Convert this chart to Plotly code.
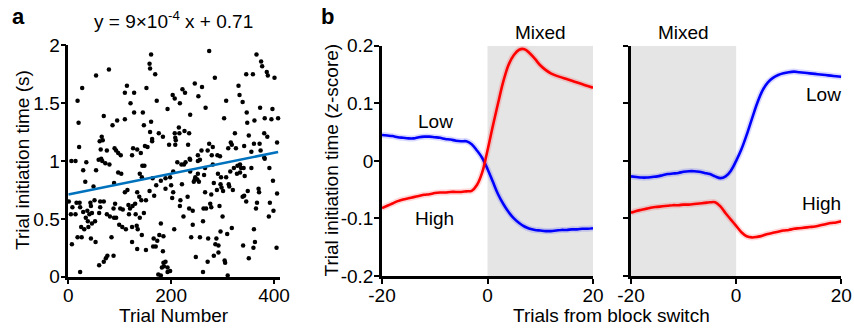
import plotly.graph_objects as go

# ---------------- Panel a data ----------------
trial_number = [
    161, 158, 159, 169, 54, 79, 27, 114, 110, 128, 152, 18, 121, 172, 203, 207, 193, 128, 145, 69,
    20, 95, 110, 86, 161, 147, 159, 176, 184, 163, 163, 65, 67, 61, 21, 196, 207, 208, 208, 63,
    75, 90, 93, 97, 102, 126, 134, 141, 149, 154, 124, 64,
    274, 366, 375, 377, 285, 346, 359, 386, 388, 401, 246, 260, 222, 227, 217, 253, 331, 333, 339, 307,
    267, 237, 347, 373, 397, 303, 348, 362, 382, 395, 408, 215, 226, 235, 216, 209, 233, 324, 351, 381,
    387, 274, 281, 316, 318, 311, 326, 342, 361, 372, 406, 259, 271, 356, 374, 252, 236, 279, 290, 295, 381,
    14, 6, 35, 59, 66, 72, 80, 29, 54, 97, 103, 144, 148, 139, 143, 33, 89, 49, 164, 171,
    180, 189, 198, 200, 110, 115, 134, 138, 142, 151, 158, 167, 189, 204, 202, 1, 16, 22, 43, 51,
    62, 69, 91, 117, 130, 8, 23, 44, 62, 88, 101, 106, 120, 125, 5, 14, 29, 37, 41, 46,
    60, 75, 81, 89, 93, 118, 131, 147, 139, 34, 38, 52, 46, 25, 31, 39, 99, 105, 112, 124,
    133, 135, 143, 180, 206, 18, 26, 44, 53, 84, 124, 166, 177, 185, 173, 170, 165, 7, 134, 151,
    184, 76, 88, 73, 69, 60, 189, 182, 186, 193, 198, 23, 175, 185, 193, 180,
    212, 220, 225, 228, 237, 252, 256, 281, 266, 204, 237, 252, 264, 247, 246, 251, 244, 254, 291, 297,
    307, 315, 322, 329, 334, 336, 341, 328, 334, 343, 356, 382, 391, 398, 221, 283, 296, 298, 312, 313,
    320, 301, 289, 266, 278, 232, 218, 339, 342, 349, 346, 370, 371, 406, 367, 392, 217, 276, 278, 294,
    235, 242, 263, 268, 365, 399, 224, 300, 262, 390, 242, 318, 296, 309, 361, 239, 256, 272, 288, 286,
    292, 340, 363, 360, 405, 292, 283, 248, 351, 304, 305, 271, 262, 310,
]
initiation_time = [
    1.92, 1.84, 1.80, 1.75, 1.74, 1.79, 1.63, 1.65, 1.59, 1.59, 1.63, 1.52, 1.50, 1.52, 1.57, 1.54, 1.45, 1.42, 1.42, 1.39,
    1.33, 1.35, 1.36, 1.31, 1.34, 1.31, 1.25, 1.24, 1.21, 1.19, 1.17, 1.21, 1.18, 1.17, 1.12, 1.14, 1.24, 1.20, 1.14, 1.10,
    1.09, 1.11, 1.09, 1.07, 1.05, 1.11, 1.10, 1.07, 1.13, 1.12, 1.05, 1.02,
    1.95, 1.92, 1.86, 1.82, 1.72, 1.75, 1.75, 1.77, 1.74, 1.72, 1.67, 1.64, 1.62, 1.59, 1.50, 1.56, 1.65, 1.57, 1.51, 1.52,
    1.46, 1.40, 1.42, 1.46, 1.45, 1.37, 1.33, 1.35, 1.37, 1.36, 1.37, 1.29, 1.26, 1.24, 1.24, 1.18, 1.14, 1.24, 1.22, 1.24,
    1.21, 1.15, 1.12, 1.16, 1.14, 1.11, 1.11, 1.13, 1.15, 1.15, 1.16, 1.09, 1.09, 1.08, 1.09, 1.05, 1.02, 1.05, 1.05, 1.04, 1.03,
    1.00, 1.00, 0.99, 1.01, 1.00, 0.98, 0.97, 0.92, 0.92, 0.90, 0.89, 0.96, 0.96, 0.89, 0.86, 0.82, 0.81, 0.78, 0.85, 0.79,
    0.83, 0.85, 0.86, 0.79, 0.73, 0.75, 0.73, 0.69, 0.66, 0.66, 0.74, 0.70, 0.76, 0.73, 0.68, 0.65, 0.64, 0.64, 0.64, 0.66,
    0.65, 0.65, 0.63, 0.62, 0.63, 0.60, 0.60, 0.61, 0.60, 0.59, 0.59, 0.58, 0.59, 0.61, 0.54, 0.54, 0.56, 0.57, 0.54, 0.55,
    0.55, 0.54, 0.52, 0.51, 0.51, 0.54, 0.54, 0.55, 0.51, 0.51, 0.48, 0.48, 0.46, 0.43, 0.41, 0.43, 0.45, 0.43, 0.41, 0.43,
    0.44, 0.41, 0.36, 0.46, 0.41, 0.34, 0.34, 0.33, 0.30, 0.34, 0.30, 0.33, 0.36, 0.35, 0.31, 0.26, 0.26, 0.28, 0.24, 0.23,
    0.22, 0.18, 0.18, 0.16, 0.13, 0.10, 0.13, 0.08, 0.09, 0.08, 0.05, 0.04, 0.02, 0.12, 0.04, 0.01,
    0.99, 0.97, 0.97, 0.99, 1.01, 1.00, 1.01, 0.97, 0.94, 0.91, 0.91, 0.89, 0.88, 0.86, 0.84, 0.84, 0.82, 0.82, 0.89, 0.86,
    0.86, 0.91, 0.94, 0.96, 0.97, 0.94, 0.94, 0.89, 0.90, 0.87, 0.94, 1.02, 0.94, 0.83, 0.80, 0.81, 0.80, 0.77, 0.80, 0.78,
    0.75, 0.74, 0.75, 0.73, 0.71, 0.69, 0.66, 0.69, 0.70, 0.74, 0.65, 0.76, 0.73, 0.72, 0.64, 0.64, 0.61, 0.63, 0.60, 0.61,
    0.59, 0.57, 0.59, 0.59, 0.59, 0.57, 0.52, 0.52, 0.48, 0.52, 0.45, 0.42, 0.39, 0.37, 0.41, 0.34, 0.34, 0.33, 0.33, 0.28,
    0.27, 0.27, 0.30, 0.25, 0.25, 0.21, 0.18, 0.17, 0.16, 0.14, 0.12, 0.13, 0.04, 0.01,
]
fit_slope = 9e-4
fit_intercept = 0.71

# ---------------- Panel b data ----------------
trials_from_switch = list(range(-20, 21))

# Low -> Mixed switch
low_to_mixed_low = [
    0.045, 0.044, 0.043, 0.041, 0.040, 0.039, 0.039, 0.041, 0.042, 0.042, 0.041, 0.040, 0.038, 0.037, 0.035,
    0.034, 0.034, 0.029, 0.018, 0.005, -0.014, -0.036, -0.058, -0.075, -0.089, -0.100, -0.108, -0.114, -0.118,
    -0.120, -0.121, -0.122, -0.122, -0.121, -0.120, -0.120, -0.119, -0.119, -0.118, -0.118, -0.117,
]
low_to_mixed_high = [
    -0.082, -0.078, -0.074, -0.070, -0.067, -0.065, -0.063, -0.061, -0.059, -0.058, -0.056, -0.055, -0.055,
    -0.054, -0.054, -0.054, -0.053, -0.052, -0.042, -0.020, 0.018, 0.060, 0.100, 0.138, 0.167, 0.184, 0.193,
    0.194, 0.187, 0.177, 0.166, 0.158, 0.152, 0.148, 0.145, 0.142, 0.139, 0.136, 0.133, 0.130, 0.127,
]
# Mixed -> block switch
mixed_to_low_low = [
    -0.027, -0.028, -0.029, -0.029, -0.028, -0.027, -0.025, -0.023, -0.022, -0.021, -0.019, -0.018, -0.018,
    -0.019, -0.021, -0.023, -0.027, -0.030, -0.027, -0.017, 0.000, 0.020, 0.045, 0.073, 0.100, 0.122, 0.136,
    0.144, 0.149, 0.152, 0.154, 0.155, 0.154, 0.153, 0.152, 0.151, 0.150, 0.149, 0.148, 0.147, 0.146,
]
mixed_to_low_high = [
    -0.090, -0.087, -0.085, -0.083, -0.081, -0.080, -0.079, -0.078, -0.077, -0.077, -0.076, -0.076, -0.075,
    -0.074, -0.073, -0.072, -0.072, -0.079, -0.091, -0.102, -0.113, -0.124, -0.131, -0.133, -0.132, -0.130,
    -0.127, -0.125, -0.123, -0.121, -0.120, -0.118, -0.117, -0.116, -0.115, -0.114, -0.112, -0.110, -0.108,
    -0.107, -0.105,
]

W, H = 854, 329
FONT = "Liberation Sans, Arial, Helvetica, sans-serif"
FS = 19

fig = go.Figure()

# Panel a
fig.add_trace(go.Scatter(x=trial_number, y=initiation_time, mode="markers",
                         marker=dict(color="black", size=4.5), cliponaxis=False,
                         xaxis="x", yaxis="y", showlegend=False))
x_fit = [0, max(trial_number)]
fig.add_trace(go.Scatter(x=x_fit, y=[fit_intercept + fit_slope * v for v in x_fit], mode="lines",
                         line=dict(color="#0072BD", width=2.6), xaxis="x", yaxis="y", showlegend=False))

# Panel b
def curve(y, color, halo, ax):
    fig.add_trace(go.Scatter(x=trials_from_switch, y=y, mode="lines",
                             line=dict(color=halo, width=6, shape="spline"),
                             xaxis="x" + ax, yaxis="y" + ax, showlegend=False, hoverinfo="skip"))
    fig.add_trace(go.Scatter(x=trials_from_switch, y=y, mode="lines",
                             line=dict(color=color, width=2.6, shape="spline"),
                             xaxis="x" + ax, yaxis="y" + ax, showlegend=False))

BLUE, RED = "#0000ff", "#ff0000"
BHALO, RHALO = "rgba(0,0,255,0.15)", "rgba(255,0,0,0.15)"
curve(low_to_mixed_low, BLUE, BHALO, "2")
curve(low_to_mixed_high, RED, RHALO, "2")
curve(mixed_to_low_low, BLUE, BHALO, "3")
curve(mixed_to_low_high, RED, RHALO, "3")

axis_common = dict(showline=True, linecolor="black", linewidth=2.5, ticks="outside", ticklen=5,
                   tickwidth=2, tickcolor="black", showgrid=False, zeroline=False, automargin=False,
                   tickfont=dict(family=FONT, size=FS, color="black"))
xax = dict(axis_common, ticklabelstandoff=-5)
yax = dict(axis_common, ticklabelstandoff=-3)

fig.update_layout(
    template="none",
    width=W, height=H, margin=dict(l=0, r=0, t=0, b=0, pad=0),
    paper_bgcolor="white", plot_bgcolor="rgba(0,0,0,0)",
    font=dict(family=FONT, size=FS, color="black"),
    xaxis=dict(domain=[68.3 / W, 280 / W], range=[0, 411.7], anchor="y",
               tickvals=[0, 200, 400], ticktext=["0", "200", "400"], **xax),
    yaxis=dict(domain=[(H - 276.7) / H, (H - 45.3) / H], range=[0, 2], anchor="x",
               tickvals=[0, 0.5, 1, 1.5, 2], ticktext=["0", "0.5", "1", "1.5", "2"], **yax),
    xaxis2=dict(domain=[382 / W, 593 / W], range=[-20, 20], anchor="y2",
                tickvals=[-20, 0, 20], ticktext=["-20", "0", "20"], **xax),
    yaxis2=dict(domain=[(H - 276) / H, (H - 45.7) / H], range=[-0.2, 0.2], anchor="x2",
                tickvals=[-0.2, -0.1, 0, 0.1, 0.2], ticktext=["-0.2", "-0.1", "0", "0.1", "0.2"], **yax),
    xaxis3=dict(domain=[631 / W, 841.3 / W], range=[-20, 20], anchor="y3",
                tickvals=[-20, 0, 20], ticktext=["-20", "0", "20"], **xax),
    yaxis3=dict(domain=[(H - 276) / H, (H - 45.7) / H], range=[-0.2, 0.2], anchor="x3",
                tickvals=[-0.2, -0.1, 0, 0.1, 0.2], showticklabels=False, **yax),
)

# Mixed-block shading
fig.add_shape(type="rect", xref="x2", yref="y2", x0=0, x1=20, y0=-0.2, y1=0.2,
              fillcolor="#e5e5e5", line=dict(width=0), layer="below")
fig.add_shape(type="rect", xref="x3", yref="y3", x0=-20, x1=0, y0=-0.2, y1=0.2,
              fillcolor="#e5e5e5", line=dict(width=0), layer="below")

def ann(text, px, py, size=FS, angle=0):
    fig.add_annotation(text=text, x=px / W, y=1 - py / H, xref="paper", yref="paper",
                       xanchor="center", yanchor="middle", showarrow=False, textangle=angle,
                       font=dict(family=FONT, size=size, color="black"))

ann("<b>a</b>", 18.5, 16, size=22)
ann("<b>b</b>", 327.5, 16, size=22)
ann("y = 9×10<sup>-4</sup> x + 0.71", 173, 20, size=19)
ann("Trial Number", 174, 315.5)
ann("Trials from block switch", 611.7, 315.5)
ann("Trial initiation time (s)", 22, 160, angle=-90)
ann("Trial initiation time (z-score)", 331, 160.5, angle=-90)
ann("Mixed", 540, 33)
ann("Mixed", 683, 33)
ann("Low", 435, 121)
ann("High", 434.5, 218)
ann("Low", 823.5, 94)
ann("High", 821.5, 203)

fig.write_html("out.html")
